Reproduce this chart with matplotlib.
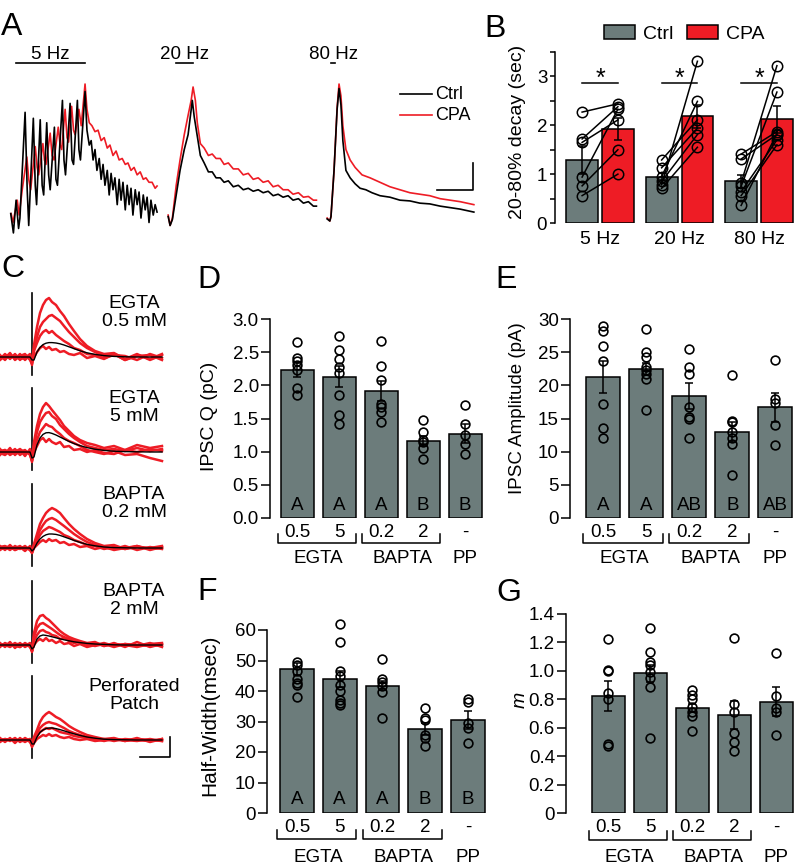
import numpy as np
import matplotlib
matplotlib.use("Agg")
import matplotlib.pyplot as plt
from matplotlib.patches import Patch

plt.rcParams['font.family'] = ['Liberation Sans', 'DejaVu Sans']
plt.rcParams['font.size'] = 13.5

GRAY = '#6c7c7b'
RED = '#ee1c25'

# ---------------- A: train responses (time in s, normalised current) ----------------
train_names = ['5 Hz', '20 Hz', '80 Hz']
train_freq = [5, 20, 80]
n_pulses = 10

t5_ctrl = [-0.14, -0.07, 0.0, 0.065, 0.10, 0.235, 0.29, 0.33, 0.45, 0.50, 0.535, 0.63, 0.68, 0.72,
           0.80, 0.85, 0.89, 1.00, 1.04, 1.08, 1.21, 1.25, 1.29, 1.41, 1.46, 1.50, 1.60, 1.64, 1.68,
           1.80, 1.85, 1.91, 1.96, 2.01, 2.06, 2.11, 2.17, 2.22, 2.27, 2.32, 2.38, 2.43, 2.48, 2.53,
           2.58, 2.64, 2.69, 2.74, 2.79, 2.85, 2.90, 2.95, 3.00, 3.05, 3.11, 3.16, 3.21, 3.26, 3.32,
           3.37, 3.42, 3.47, 3.52, 3.58, 3.63, 3.68]
y5_ctrl = [0.13, 0.00, 0.22, 0.03, 0.10, 0.81, 0.29, 0.05, 0.77, 0.32, 0.19, 0.76, 0.32, 0.255,
           0.74, 0.39, 0.29, 0.71, 0.36, 0.32, 0.89, 0.49, 0.39, 0.87, 0.49, 0.46, 0.89, 0.56, 0.49,
           0.95, 0.69, 0.59, 0.62, 0.49, 0.56, 0.42, 0.50, 0.36, 0.46, 0.32, 0.42, 0.255, 0.40, 0.29,
           0.37, 0.19, 0.36, 0.22, 0.34, 0.155, 0.32, 0.19, 0.30, 0.12, 0.29, 0.19, 0.275, 0.10, 0.255,
           0.155, 0.24, 0.07, 0.22, 0.12, 0.19, 0.14]
t5_cpa = [-0.13, -0.08, 0.03, 0.08, 0.16, 0.28, 0.33, 0.38, 0.50, 0.55, 0.59, 0.70, 0.74, 0.78,
          0.89, 0.94, 0.99, 1.10, 1.15, 1.19, 1.28, 1.33, 1.37, 1.45, 1.50, 1.54, 1.64, 1.70,
          1.80, 1.85, 1.91, 1.98, 2.06, 2.14, 2.22, 2.30, 2.38, 2.45, 2.53, 2.61, 2.69, 2.77,
          2.85, 2.92, 3.00, 3.08, 3.16, 3.24, 3.32, 3.39, 3.47, 3.55, 3.63, 3.68]
y5_cpa = [0.13, 0.07, 0.22, 0.12, 0.29, 0.51, 0.36, 0.29, 0.58, 0.44, 0.39, 0.60, 0.49, 0.46,
          0.67, 0.52, 0.49, 0.71, 0.59, 0.56, 0.83, 0.64, 0.61, 0.85, 0.69, 0.66, 0.83, 0.72,
          1.0, 0.83, 0.74, 0.72, 0.68, 0.69, 0.62, 0.64, 0.57, 0.59, 0.52, 0.55, 0.49, 0.50,
          0.46, 0.47, 0.42, 0.44, 0.39, 0.41, 0.36, 0.37, 0.34, 0.34, 0.30, 0.315]

t20_ctrl = [-0.21, -0.16, -0.10, 0.0, 0.10, 0.21, 0.31, 0.42, 0.47, 0.55, 0.63, 0.73, 0.84, 0.94,
            1.04, 1.15, 1.25, 1.36, 1.49, 1.62, 1.75, 1.88, 2.01, 2.14, 2.27, 2.40, 2.53, 2.66,
            2.79, 2.92, 3.05, 3.19, 3.32, 3.45, 3.58, 3.66]
y20_ctrl = [0.11, 0.05, 0.09, 0.255, 0.42, 0.56, 0.66, 0.89, 0.78, 0.65, 0.52, 0.47, 0.41, 0.41,
            0.37, 0.37, 0.34, 0.35, 0.31, 0.32, 0.29, 0.30, 0.28, 0.29, 0.27, 0.28, 0.25, 0.26,
            0.24, 0.25, 0.22, 0.23, 0.20, 0.21, 0.18, 0.18]
t20_cpa = [-0.21, -0.16, -0.10, 0.0, 0.10, 0.21, 0.31, 0.39, 0.44, 0.50, 0.55, 0.63, 0.73, 0.84,
           0.94, 1.04, 1.15, 1.25, 1.36, 1.49, 1.62, 1.75, 1.88, 2.01, 2.14, 2.27, 2.40, 2.53,
           2.66, 2.79, 2.92, 3.05, 3.19, 3.32, 3.45, 3.58, 3.66]
y20_cpa = [0.12, 0.05, 0.10, 0.32, 0.49, 0.66, 0.79, 0.89, 0.98, 0.89, 0.74, 0.60, 0.57, 0.52,
           0.53, 0.50, 0.50, 0.46, 0.47, 0.43, 0.43, 0.39, 0.40, 0.36, 0.37, 0.34, 0.35, 0.31,
           0.32, 0.29, 0.29, 0.26, 0.27, 0.24, 0.245, 0.22, 0.22]

t80_ctrl = [-0.10, -0.03, 0.0, 0.08, 0.16, 0.21, 0.26, 0.31, 0.39, 0.50, 0.63, 0.76, 0.91, 1.07,
            1.28, 1.54, 1.80, 2.06, 2.32, 2.58, 2.85, 3.11, 3.37, 3.73]
y80_ctrl = [0.094, 0.08, 0.11, 0.42, 0.83, 0.97, 0.86, 0.62, 0.42, 0.37, 0.33, 0.30, 0.29, 0.27,
            0.25, 0.24, 0.22, 0.215, 0.20, 0.195, 0.18, 0.17, 0.16, 0.14]
t80_cpa = [-0.10, -0.03, 0.0, 0.08, 0.16, 0.21, 0.26, 0.31, 0.39, 0.50, 0.63, 0.81, 1.02, 1.28,
           1.54, 1.80, 2.06, 2.32, 2.58, 2.85, 3.11, 3.37, 3.73]
y80_cpa = [0.10, 0.08, 0.11, 0.42, 0.84, 1.0, 0.92, 0.72, 0.56, 0.49, 0.44, 0.39, 0.37, 0.34,
           0.31, 0.29, 0.27, 0.26, 0.25, 0.23, 0.22, 0.21, 0.19]

# ---------------- B: 20-80% decay ----------------
freq_labels = ['5 Hz', '20 Hz', '80 Hz']
ctrl_mean = [1.29, 0.95, 0.85]
ctrl_sem = [0.28, 0.08, 0.14]
cpa_mean = [1.92, 2.18, 2.12]
cpa_sem = [0.22, 0.24, 0.27]
ctrl_pts = [[2.27, 1.72, 1.65, 0.94, 0.76, 0.56],
            [1.29, 1.13, 0.95, 0.85, 0.78, 0.71],
            [1.41, 1.31, 0.82, 0.75, 0.64, 0.56, 0.36]]
cpa_pts = [[2.44, 2.38, 2.11, 2.33, 1.50, 1.00],
           [2.11, 1.94, 2.49, 1.81, 3.31, 1.55],
           [1.87, 1.81, 3.22, 2.68, 1.70, 1.60, 1.83]]
sig_y = [2.87, 2.87, 2.87]

# ---------------- C: example IPSCs (time in ms, current in pA) ----------------
tC = [-64, -54, -44, -34, -24, -14, -4, 0, 4, 10, 16, 22, 28, 34, 40, 48, 56, 64, 74, 84, 96,
      110, 126, 144, 164, 186, 210, 236, 260]
stim_artifact = [-9, 32]
c_labels = [('EGTA', '0.5 mM'), ('EGTA', '5 mM'), ('BAPTA', '0.2 mM'), ('BAPTA', '2 mM'),
            ('Perforated', 'Patch')]
c_red = [
    [[1.0, -1.5, 1.5, -1.0, 1.5, -1.5, 1.0, -4.0, 6.0, 15.0, 22.0, 26.0, 28.5, 29.5, 27.5, 26.0, 23.0, 20.5, 16.5, 13.0, 9.0, 5.5, 3.0, 1.5, 2.0, -1.0, 1.5, -1.5, 1.0],
     [-1.0, 1.5, -1.0, 1.5, -1.5, 1.0, -1.0, -3.0, 4.0, 10.0, 15.0, 17.5, 19.0, 20.5, 21.0, 19.5, 18.0, 15.5, 12.5, 10.0, 7.0, 4.5, 2.5, 0.5, 1.5, -1.5, 1.0, -1.0, 1.5],
     [0.5, -0.5, 2.0, -1.5, 0.5, 1.5, -1.5, -3.5, 3.0, 7.0, 10.5, 12.5, 13.5, 12.0, 13.0, 11.0, 9.5, 8.0, 6.5, 4.5, 3.5, 1.5, 1.0, -0.5, 1.0, 0.5, -1.5, 1.5, -0.5],
     [-1.5, 0.5, -0.5, 1.0, -1.0, -0.5, 1.5, -2.5, 0.0, 2.5, 4.5, 5.5, 4.0, 5.0, 3.5, 4.0, 2.5, 3.0, 1.5, 1.0, 2.0, -0.5, 0.5, -1.0, 1.5, -1.5, 0.5, 1.0, -1.5]],
    [[1.5, -1.0, 2.0, -1.5, 1.0, -2.0, 1.5, -4.0, 5.0, 13.0, 19.0, 22.5, 24.5, 23.0, 21.0, 18.5, 16.0, 13.0, 10.5, 8.0, 6.0, 4.5, 3.5, 2.0, 3.0, 1.0, 3.5, 2.0, 3.0],
     [-1.5, 1.0, -0.5, 1.5, -1.5, 0.5, -1.0, -5.0, 3.0, 10.0, 15.0, 17.5, 19.5, 20.0, 18.0, 16.5, 13.5, 11.5, 9.0, 7.0, 5.0, 3.0, 2.0, 1.0, 1.5, 0.5, 2.0, 0.5, 1.5],
     [0.5, 1.0, -1.5, 0.0, 1.5, -0.5, 0.0, -4.5, 1.0, 6.0, 10.0, 12.0, 14.0, 13.0, 12.5, 10.5, 9.0, 7.0, 5.5, 4.5, 3.0, 1.0, 0.0, -1.0, 0.5, -1.5, -1.0, -3.0, -4.5],
     [-0.5, -1.5, 0.5, -1.0, 0.0, 1.0, -1.5, -4.0, 0.0, 3.0, 6.0, 7.0, 5.0, 6.5, 5.0, 4.0, 5.0, 2.5, 3.0, 1.0, 1.5, 0.0, 1.0, -0.5, -1.0, 1.0, 0.0, 1.5, 0.5]],
    [[1.0, -1.0, 1.5, -1.0, 0.5, -1.5, 1.0, -2.0, 2.0, 7.0, 12.0, 15.0, 17.5, 19.0, 20.0, 19.0, 17.5, 15.0, 12.0, 9.5, 7.0, 4.5, 2.5, 1.0, 1.5, -0.5, 1.0, -1.0, 0.5],
     [-1.0, 0.5, -1.0, 1.0, -0.5, 1.0, -1.0, -2.0, 1.5, 5.5, 9.0, 11.5, 13.5, 14.5, 15.0, 14.0, 12.5, 11.0, 9.0, 7.0, 5.0, 3.0, 1.5, 0.5, -0.5, 1.0, -1.0, 0.5, -0.5],
     [0.5, 1.0, -0.5, 0.0, 1.0, -1.0, 0.5, -2.5, 1.0, 3.5, 6.5, 8.5, 9.5, 10.5, 10.0, 9.0, 8.0, 6.5, 5.5, 4.0, 3.0, 1.5, 1.0, -0.5, 0.5, -0.5, 0.5, 0.0, 1.0],
     [-0.5, 0.5, 0.5, -1.0, 0.0, 0.5, -1.0, -2.5, 0.0, 1.5, 3.0, 4.0, 3.0, 4.5, 3.5, 4.0, 2.5, 3.0, 1.5, 2.0, 0.5, 1.0, -0.5, 0.5, -1.0, 0.0, 1.0, -0.5, 0.0]],
    [[1.0, -1.0, 1.5, -1.5, 1.0, -1.0, 0.5, -3.0, 6.0, 12.0, 14.5, 15.0, 13.5, 12.5, 11.0, 9.0, 7.0, 5.5, 4.0, 3.0, 2.0, 1.0, 1.5, -0.5, 1.0, -1.0, 1.5, -1.0, 0.5],
     [-1.0, 1.0, -0.5, 1.0, -1.0, 0.5, -1.0, -3.0, 4.0, 8.5, 10.5, 11.0, 10.0, 9.0, 8.0, 6.5, 5.0, 4.0, 3.0, 2.0, 1.5, 0.5, -0.5, 0.5, -1.0, 0.5, -0.5, 1.0, -1.0],
     [0.5, 0.0, -1.0, 0.5, 0.5, -0.5, 1.0, -3.5, 2.0, 5.0, 7.0, 7.5, 6.5, 6.0, 5.0, 4.5, 3.0, 3.5, 2.0, 1.0, 1.5, 0.0, 1.0, -0.5, 0.5, 0.0, -1.0, 0.5, 1.0],
     [-0.5, 0.5, 0.5, -0.5, -1.0, 1.0, -0.5, -3.0, 0.0, 2.0, 3.0, 2.0, 3.5, 2.0, 2.5, 1.0, 2.0, 0.5, 1.0, -0.5, 0.5, -1.0, 0.0, 1.0, -0.5, 0.5, 0.0, -0.5, 0.0]],
    [[1.0, -1.0, 1.0, -1.5, 1.0, -1.0, 0.5, -2.0, 1.5, 5.0, 9.0, 11.5, 13.0, 14.0, 13.0, 11.5, 10.5, 9.0, 7.0, 5.5, 4.0, 2.5, 1.5, 0.5, 1.0, -0.5, 1.0, -1.0, 0.5],
     [-1.0, 0.5, -0.5, 1.0, -1.0, 1.0, -0.5, -2.5, 0.5, 3.5, 6.0, 7.5, 8.5, 9.0, 8.5, 8.0, 7.0, 6.0, 4.5, 3.5, 2.5, 1.5, 0.5, -0.5, 0.5, 0.0, -0.5, 0.5, -0.5],
     [0.5, 0.0, 0.5, -0.5, 0.0, 0.5, -1.0, -3.0, 0.0, 2.0, 4.0, 5.0, 6.0, 5.5, 6.0, 5.0, 4.0, 3.5, 3.0, 2.0, 1.5, 1.0, 0.0, 0.5, -0.5, 0.5, 0.0, -0.5, 0.5],
     [-0.5, 0.5, 0.0, 0.5, -0.5, -0.5, 0.5, -3.5, -1.5, 0.5, 1.5, 2.5, 2.0, 3.0, 2.0, 2.5, 1.5, 1.0, 1.5, 0.5, 0.0, 0.5, -0.5, 0.0, 0.5, -0.5, 0.5, 0.0, -0.5]],
]
c_mean = [
    [0, 0, 0, 0, 0, 0, 0, -1.5, -1.5, 2.5, 4.8, 6.2, 6.9, 7.2, 7.2, 7.0, 6.6, 6.0, 5.1, 4.2, 3.1, 2.1, 1.3, 0.7, 0.3, 0.1, 0, 0, 0],
    [0, 0, 0, 0, 0, 0, 0, -3.0, -2.5, 3.5, 7.0, 8.8, 9.6, 9.7, 9.3, 8.5, 7.5, 6.5, 5.3, 4.2, 3.2, 2.2, 1.4, 0.8, 0.4, 0.2, 0.1, 0, 0],
    [0, 0, 0, 0, 0, 0, 0, -1.5, -0.5, 2.5, 4.5, 5.8, 6.6, 7.0, 7.0, 6.8, 6.3, 5.6, 4.7, 3.8, 2.8, 1.8, 1.1, 0.5, 0.2, 0.1, 0, 0, 0],
    [0, 0, 0, 0, 0, 0, 0, -2.0, -1.0, 3.0, 4.5, 5.0, 4.8, 4.5, 4.1, 3.6, 3.1, 2.6, 2.1, 1.6, 1.2, 0.8, 0.5, 0.3, 0.1, 0, 0, 0, 0],
    [0, 0, 0, 0, 0, 0, 0, -2.0, -2.0, 1.5, 3.8, 5.0, 5.7, 6.0, 6.0, 5.7, 5.2, 4.6, 3.8, 3.1, 2.3, 1.5, 0.9, 0.4, 0.2, 0.1, 0, 0, 0],
]

# ---------------- D-G: summary bars ----------------
conc_labels = ['0.5', '5', '0.2', '2', '-']
buffer_groups = [('EGTA', [0, 1]), ('BAPTA', [2, 3]), ('PP', [4])]

q_mean = [2.23, 2.13, 1.92, 1.16, 1.27]
q_sem = [0.10, 0.16, 0.15, 0.08, 0.14]
q_pts = [[2.65, 2.41, 2.36, 2.31, 2.23, 1.96, 1.85],
         [2.75, 2.54, 2.39, 2.28, 2.19, 1.86, 1.55, 1.41],
         [2.67, 2.29, 2.08, 1.72, 1.67, 1.60, 1.44],
         [1.48, 1.29, 1.18, 1.14, 1.06, 0.89],
         [1.71, 1.42, 1.25, 1.12, 0.96]]
q_letters = ['A', 'A', 'A', 'B', 'B']

amp_mean = [21.2, 22.5, 18.4, 13.0, 16.7]
amp_sem = [2.4, 0.9, 1.9, 1.5, 2.2]
amp_pts = [[28.9, 28.2, 26.0, 23.6, 17.2, 13.5, 12.0],
           [28.5, 25.0, 24.3, 22.8, 22.3, 21.7, 21.0, 16.3],
           [25.5, 22.8, 21.7, 16.7, 15.3, 15.0, 12.1],
           [21.6, 14.6, 14.4, 13.0, 12.0, 11.1, 6.5],
           [23.8, 18.0, 17.3, 14.0, 11.0]]
amp_letters = ['A', 'A', 'AB', 'B', 'AB']

hw_mean = [47.2, 43.9, 41.7, 27.5, 30.5]
hw_sem = [2.0, 2.5, 1.5, 2.0, 3.0]
hw_pts = [[49.5, 48.5, 46.5, 44.0, 42.5, 42.0, 38.0],
          [62.0, 56.0, 46.5, 45.0, 42.0, 40.0, 37.0, 36.0, 35.5],
          [50.5, 44.0, 43.0, 41.5, 39.8, 31.0],
          [34.5, 31.0, 30.5, 25.5, 24.5, 22.0],
          [37.5, 36.5, 29.5, 28.0, 23.0]]
hw_letters = ['A', 'A', 'A', 'B', 'B']

m_mean = [0.826, 0.983, 0.74, 0.69, 0.784]
m_sem = [0.105, 0.06, 0.03, 0.10, 0.10]
m_pts = [[1.222, 1.007, 1.0, 0.843, 0.80, 0.487, 0.468],
         [1.30, 1.135, 1.065, 1.04, 0.995, 0.948, 0.885, 0.531],
         [0.862, 0.83, 0.80, 0.749, 0.714, 0.679, 0.574],
         [1.234, 0.768, 0.714, 0.562, 0.503, 0.433],
         [1.124, 0.82, 0.737, 0.714, 0.55]]

# ---------------- figure ----------------
W, H = 796, 867
fig = plt.figure(figsize=(W / 100, H / 100), dpi=100)


def px_axes(x0, y0, x1, y1):
    return fig.add_axes([x0 / W, 1 - y1 / H, (x1 - x0) / W, (y1 - y0) / H])


for lab, x, y in [('A', 1, 35), ('B', 484, 37), ('C', 1, 277), ('D', 197, 288),
                  ('E', 495, 288), ('F', 197, 600), ('G', 496, 601)]:
    fig.text(x / W, 1 - y / H, lab, fontsize=23, va='baseline', ha='left')

# A
axA = px_axes(0, 45, 480, 245)
axA.set_xlim(0, 12.53)
axA.set_ylim(-0.081, 1.262)
axA.axis('off')
onsets = [0.42, 4.6, 8.64]
traces = [(t5_ctrl, y5_ctrl, t5_cpa, y5_cpa),
          (t20_ctrl, y20_ctrl, t20_cpa, y20_cpa),
          (t80_ctrl, y80_ctrl, t80_cpa, y80_cpa)]
for name, f, on, (tc, yc, tp, yp) in zip(train_names, train_freq, onsets, traces):
    axA.plot(np.array(tp) + on, yp, color=RED, lw=1.2)
    axA.plot(np.array(tc) + on, yc, color='black', lw=1.2)
    dur = (n_pulses - 1) / f
    axA.plot([on, on + dur], [1.14, 1.14], color='black', lw=1.2)
    axA.text(on + dur / 2, 1.165, name, ha='center', va='baseline')
# legend
for lab, col, y in [('Ctrl', 'black', 0.93), ('CPA', RED, 0.79)]:
    axA.plot([10.44, 11.28], [y, y], color=col, lw=1.2)
    axA.text(11.36, y, lab, va='center', ha='left', fontsize=13)
# scale bar
axA.plot([11.41, 12.35, 12.35], [0.29, 0.29, 0.47], color='black', lw=1.2)

# B
axB = px_axes(555, 52, 796, 223)
xg = np.arange(3)
off = 0.225
axB.bar(xg - off, ctrl_mean, 0.40, color=GRAY, edgecolor='black', lw=1.1, zorder=1)
axB.bar(xg + off, cpa_mean, 0.40, color=RED, edgecolor='black', lw=1.1, zorder=1)
axB.errorbar(xg - off, ctrl_mean, yerr=ctrl_sem, fmt='none', ecolor='black', elinewidth=1.1,
             capsize=3, capthick=1.1, zorder=2)
axB.errorbar(xg + off, cpa_mean, yerr=cpa_sem, fmt='none', ecolor='black', elinewidth=1.1,
             capsize=3, capthick=1.1, zorder=2)
for i in range(3):
    for c, p in zip(ctrl_pts[i], cpa_pts[i]):
        axB.plot([i - off, i + off], [c, p], color='black', lw=1.1, zorder=3)
    axB.plot([i - off] * len(ctrl_pts[i]), ctrl_pts[i], 'o', mfc='none', mec='black', ms=7.5,
             mew=1.1, zorder=4)
    axB.plot([i + off] * len(cpa_pts[i]), cpa_pts[i], 'o', mfc='none', mec='black', ms=7.5,
             mew=1.1, zorder=4)
    axB.plot([i - off, i + off], [sig_y[i], sig_y[i]], color='black', lw=1.1)
    axB.text(i, sig_y[i] - 0.06, '*', ha='center', va='baseline', fontsize=18)
axB.set_xlim(-0.566, 2.465)
axB.set_ylim(0, 3.5)
axB.set_xticks(xg)
axB.set_xticklabels(freq_labels, fontsize=14)
axB.set_yticks([0, 1, 2, 3])
axB.set_yticks(np.arange(0, 3.51, 0.5), minor=True)
for s in ['top', 'right', 'bottom']:
    axB.spines[s].set_visible(False)
axB.spines['left'].set_linewidth(1.1)
axB.spines['left'].set_bounds(0, 3.5)
axB.tick_params(axis='y', which='both', length=3.6, width=1.1, pad=2)
axB.tick_params(axis='x', length=0, pad=6)
axB.set_ylabel('20-80% decay (sec)', fontsize=14)
axB.yaxis.set_label_coords((526 - 555) / 241, 0.53)
axB.legend([Patch(facecolor=GRAY, edgecolor='black', lw=1.1),
            Patch(facecolor=RED, edgecolor='black', lw=1.1)], ['Ctrl', 'CPA'],
           loc='center left', bbox_to_anchor=(604 / W, 1 - 34 / H), bbox_transform=fig.transFigure,
           frameon=False, ncol=2, handlelength=1.6, handleheight=0.7, handletextpad=0.4,
           columnspacing=0.7, borderpad=0, borderaxespad=0, fontsize=14)

# C
c_base = [357, 452, 548, 645, 740]
for r in range(5):
    b = c_base[r]
    ax = px_axes(0, b - 70, 172, b + 22)
    ax.set_xlim(-64, 280)
    ax.set_ylim(-11, 35)
    ax.axis('off')
    ax.plot([0, 0], stim_artifact, color='black', lw=1.2, zorder=1)
    for tr in c_red[r]:
        ax.plot(tC, tr, color=RED, lw=1.8, zorder=2)
    ax.plot(tC, c_mean[r], color='black', lw=1.0, zorder=3)
    ax.text(204, 24.5, c_labels[r][0], ha='center', va='baseline', fontsize=14)
    ax.text(204, 15.3, c_labels[r][1], ha='center', va='baseline', fontsize=14)
    if r == 4:
        ax.plot([216, 276, 276], [-8.5, -8.5, 1.5], color='black', lw=1.2, clip_on=False)


# D-G
def summary_panel(rect, means, sems, pts, letters, ymax, yticks, yticklabels, ylabel,
                  xleft, spacing, label_xy, lab_off, brk_off, label_size=13.5):
    ax = px_axes(*rect)
    h = rect[3] - rect[1]
    w = rect[2] - rect[0]
    x = np.arange(5)
    ax.bar(x, means, 0.79, color=GRAY, edgecolor='black', lw=1.1, zorder=1)
    ax.errorbar(x, means, yerr=sems, fmt='none', ecolor='black', elinewidth=1.1, capsize=3,
                capthick=1.1, zorder=2)
    for i, p in enumerate(pts):
        ax.plot([i] * len(p), p, 'o', mfc='none', mec='black', ms=6.3, mew=1.2, zorder=3,
                clip_on=False)
    tr = ax.get_xaxis_transform()
    if letters:
        for i, l in enumerate(letters):
            ax.text(i, 8.5 / h, l, transform=tr, ha='center', va='baseline')
    for name, idx in buffer_groups:
        if len(idx) > 1:
            x0, x1 = idx[0] - 0.46, idx[-1] + 0.39
            ax.plot([x0, x0, x1, x1], [-(brk_off - 9) / h, -brk_off / h, -brk_off / h,
                                       -(brk_off - 9) / h],
                    transform=tr, color='black', lw=1.1, clip_on=False)
        ax.text(np.mean(idx), -lab_off / h, name, transform=tr, ha='center', va='baseline')
    ax.set_xlim(xleft, xleft + w / spacing)
    ax.set_ylim(0, ymax)
    ax.set_xticks(x)
    ax.set_xticklabels(conc_labels)
    ax.set_yticks(yticks)
    ax.set_yticklabels(yticklabels)
    for s in ['top', 'right', 'bottom']:
        ax.spines[s].set_visible(False)
    ax.spines['left'].set_linewidth(1.1)
    ax.spines['left'].set_bounds(0, ymax)
    ax.tick_params(axis='y', length=6.5, width=1.1, pad=1.5)
    ax.tick_params(axis='x', length=0, pad=4.3)
    if ylabel == 'm':
        ax.set_ylabel(ylabel, style='italic', fontsize=label_size)
    else:
        ax.set_ylabel(ylabel, fontsize=label_size)
    ax.yaxis.set_label_coords(*label_xy)
    return ax


summary_panel((270, 319, 490, 518), q_mean, q_sem, q_pts, q_letters, 3.0,
              np.arange(0, 3.01, 0.5), ['%.1f' % v for v in np.arange(0, 3.01, 0.5)],
              'IPSC Q (pC)', -0.656, 41.9, ((218 - 270) / 220, 0.513), 45, 25, 14)
summary_panel((570, 319, 796, 518), amp_mean, amp_sem, amp_pts, amp_letters, 30,
              np.arange(0, 31, 5), [str(v) for v in range(0, 31, 5)],
              'IPSC Amplitude (pA)', -0.766, 43.1, ((526 - 570) / 226, 0.553), 45, 25, 13.5)
summary_panel((267, 630, 490, 813), hw_mean, hw_sem, hw_pts, hw_letters, 60,
              np.arange(0, 61, 10), [str(v) for v in range(0, 61, 10)],
              'Half-Width(msec)', -0.70, 42.75, ((219 - 267) / 223, 0.536), 49, 26, 15)
summary_panel((566, 614, 796, 813), m_mean, m_sem, m_pts, None, 1.4,
              np.arange(0, 1.41, 0.2), ['0'] + ['%.1f' % v for v in np.arange(0.2, 1.41, 0.2)],
              'm', -1.01, 42.0, ((529 - 566) / 230, 0.568), 49, 27, 14)

fig.savefig('out.png', dpi=100)
